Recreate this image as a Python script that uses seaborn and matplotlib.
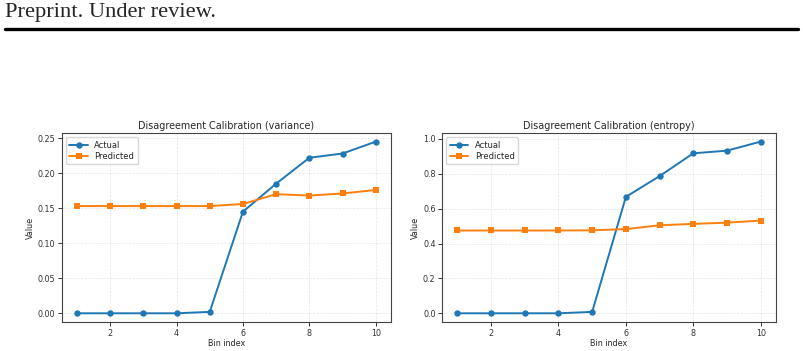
import pandas as pd
import numpy as np
import matplotlib.pyplot as plt
import seaborn as sns

bins = [1, 2, 3, 4, 5, 6, 7, 8, 9, 10]
var_actual = [0.0, 0.0, 0.0, 0.0, 0.002, 0.145, 0.185, 0.222, 0.228, 0.245]
var_pred = [0.153, 0.153, 0.153, 0.153, 0.153, 0.156, 0.170, 0.168, 0.171, 0.176]
ent_actual = [0.0, 0.0, 0.0, 0.0, 0.008, 0.668, 0.787, 0.918, 0.933, 0.985]
ent_pred = [0.475, 0.475, 0.475, 0.475, 0.476, 0.483, 0.505, 0.513, 0.520, 0.532]
titles = ["Disagreement Calibration (variance)", "Disagreement Calibration (entropy)"]

sns.set_style("ticks")
plt.rcParams['font.family'] = ['DejaVu Sans']

fig = plt.figure(figsize=(8.04, 3.51), dpi=100)

# page header
fig.text(0.006, 0.992, "Preprint. Under review.", family=['Liberation Serif'],
         fontsize=16.2, va='top', ha='left')
fig.add_artist(plt.Line2D([0.006, 0.992], [0.917, 0.917], color='black', lw=2.4))

axes = [fig.add_axes([0.077, 0.083, 0.409, 0.538]),
        fig.add_axes([0.550, 0.083, 0.415, 0.538])]

for ax, act, pred, title in zip(axes, [var_actual, ent_actual], [var_pred, ent_pred], titles):
    df = pd.DataFrame({
        'bin': bins + bins,
        'value': act + pred,
        'series': ['Actual'] * len(bins) + ['Predicted'] * len(bins),
    })
    sns.lineplot(data=df, x='bin', y='value', hue='series', style='series',
                 markers=['o', 's'], dashes=False, palette=['#1f77b4', '#ff7f0e'],
                 markersize=4.6, linewidth=1.4, markeredgewidth=0, ax=ax)
    ax.set_title(title, fontsize=6.9, pad=3)
    ax.set_xlabel("Bin index", fontsize=5.8, labelpad=1)
    ax.set_ylabel("Value", fontsize=5.8, labelpad=2)
    ax.tick_params(labelsize=5.8, length=2.8, width=0.7, pad=2, colors='#333333')
    ax.set_xticks([2, 4, 6, 8, 10])
    ax.grid(True, linestyle='--', alpha=0.5, linewidth=0.5)
    for s in ax.spines.values():
        s.set_linewidth(0.8)
        s.set_color('#444444')
    ax.legend(title=None, loc='upper left', fontsize=6, frameon=True,
              handlelength=2.2, borderpad=0.4, labelspacing=0.3)

axes[1].set_yticks([0.0, 0.2, 0.4, 0.6, 0.8, 1.0])
axes[0].yaxis.set_major_formatter(plt.FormatStrFormatter('%.2f'))

fig.savefig("out.png", dpi=100)
